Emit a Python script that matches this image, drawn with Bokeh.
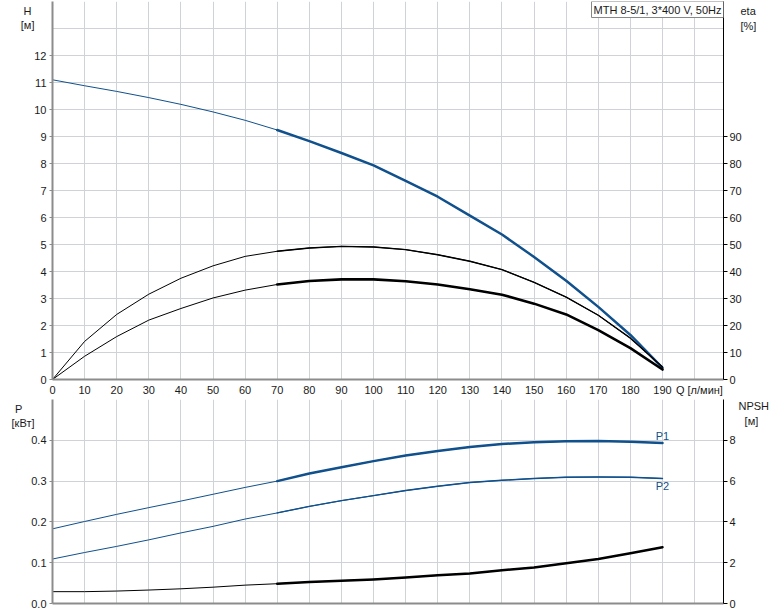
from bokeh.plotting import figure
from bokeh.models import Range1d, LinearAxis, FixedTicker, Label, NumeralTickFormatter
from bokeh.layouts import column
from bokeh.embed import file_html
from bokeh.resources import INLINE

# ---- data ----
q = [0, 10, 20, 30, 40, 50, 60, 70, 80, 90, 100, 110, 120, 130, 140, 150, 160, 170, 180, 190]
head = [11.1, 10.88, 10.67, 10.44, 10.19, 9.91, 9.6, 9.24, 8.83, 8.39, 7.93, 7.36, 6.77, 6.07,
        5.37, 4.54, 3.66, 2.69, 1.65, 0.43]
eta_pump = [0, 14.1, 24.1, 31.6, 37.5, 42.1, 45.6, 47.5, 48.7, 49.3, 49.1, 48.1, 46.2, 43.8,
            40.7, 36.0, 30.5, 23.8, 15.3, 4.6]
eta_total = [0, 8.6, 15.9, 22.0, 26.3, 30.2, 33.1, 35.2, 36.5, 37.1, 37.1, 36.4, 35.2, 33.4,
             31.4, 28.1, 24.1, 18.3, 11.6, 3.7]
p1 = [0.183, 0.201, 0.2185, 0.235, 0.251, 0.2677, 0.2845, 0.300, 0.3187, 0.334, 0.349, 0.363,
      0.3736, 0.3835, 0.391, 0.395, 0.3975, 0.398, 0.3966, 0.3933]
p2 = [0.109, 0.125, 0.140, 0.156, 0.173, 0.189, 0.207, 0.222, 0.238, 0.252, 0.2645, 0.2768,
      0.2874, 0.2965, 0.302, 0.3064, 0.3096, 0.310, 0.3096, 0.3064]
npsh = [0.58, 0.58, 0.61, 0.66, 0.72, 0.80, 0.90, 0.97, 1.05, 1.12, 1.18, 1.27, 1.38, 1.47,
        1.63, 1.77, 1.97, 2.18, 2.46, 2.76]
q_ticks = list(range(0, 200, 10))
h_ticks = list(range(0, 13))
eta_ticks = list(range(0, 100, 10))
p_ticks = [0.0, 0.1, 0.2, 0.3, 0.4]
npsh_ticks = [0, 2, 4, 6, 8]
title_text = "MTH 8-5/1, 3*400 V, 50Hz"
q_label = "Q [л/мин]"
h_label = "H\u00a0\n[м]"
eta_label = "eta\n[%]"
p_label = "P\u00a0\u00a0\u00a0\u00a0\n[кВт]"
npsh_label = "NPSH\n\u00a0\u00a0[м]"
p1_label = "P1"
p2_label = "P2"

BLUE = "#10508c"
GRID = "#cfd3d7"
AXG = "#8c8c8c"
FONT = "Liberation Sans"
FS = "11px"
TXT = "#1a1a1a"

k0 = q.index(70)  # start of the thick (operating) part

xr = Range1d(0, 209)


def style(p):
    p.outline_line_color = None
    p.background_fill_color = "white"
    p.border_fill_color = "white"
    p.xgrid.ticker = FixedTicker(ticks=list(range(0, 210, 10)))
    p.xgrid.grid_line_color = GRID
    p.ygrid.grid_line_color = GRID
    for ax in p.xaxis + p.yaxis:
        ax.axis_line_color = AXG
        ax.axis_line_width = 2
        ax.major_tick_line_color = AXG
        ax.minor_tick_line_color = None
        ax.major_tick_in = 0
        ax.major_tick_out = 3
        ax.major_label_text_font = FONT
        ax.major_label_text_font_size = FS
        ax.major_label_text_color = TXT
        ax.major_label_standoff = 3


def side_axis(range_name, ticks, color="black"):
    return LinearAxis(y_range_name=range_name, ticker=FixedTicker(ticks=ticks),
                      axis_line_color=color, axis_line_width=1,
                      major_tick_line_color=color, major_tick_in=0, major_tick_out=4,
                      minor_tick_line_color=None, major_label_text_font=FONT,
                      major_label_text_font_size=FS, major_label_text_color=TXT,
                      major_label_standoff=2)


def title_axis(range_name, tick, text, standoff):
    ax = LinearAxis(y_range_name=range_name, ticker=FixedTicker(ticks=[tick]),
                    axis_line_color=None, major_tick_line_color=None,
                    minor_tick_line_color=None, major_tick_in=0, major_tick_out=0,
                    major_label_text_font=FONT, major_label_text_font_size=FS,
                    major_label_text_color=TXT, major_label_standoff=standoff)
    ax.major_label_overrides = {tick: text}
    return ax


LJ = dict(line_join="round", line_cap="round")

# ---------------- top: H and eta ----------------
top = figure(width=774, height=398, x_range=xr, y_range=Range1d(0, 14),
             output_backend="svg", toolbar_location=None,
             min_border_left=52, min_border_right=51, min_border_top=1, min_border_bottom=17)
style(top)
top.ygrid.ticker = FixedTicker(ticks=list(range(0, 15)))
top.yaxis.ticker = FixedTicker(ticks=h_ticks)
top.xaxis.ticker = FixedTicker(ticks=q_ticks + [201.5])
top.xaxis.major_label_overrides = {201.5: q_label}
top.xaxis.major_label_standoff = 4
top.xaxis.major_tick_out = 0

top.extra_y_ranges = {"eta": Range1d(0, 140)}
top.add_layout(side_axis("eta", eta_ticks), "right")
top.add_layout(title_axis("default", 13.71, h_label, -3), "left")
top.add_layout(title_axis("eta", 137.2, eta_label, -4), "right")

top.line(q, head, line_color=BLUE, line_width=1, **LJ)
top.line(q[k0:], head[k0:], line_color=BLUE, line_width=2.5, **LJ)
top.line(q, eta_pump, y_range_name="eta", line_color="black", line_width=1, **LJ)
top.line(q[k0:], eta_pump[k0:], y_range_name="eta", line_color="black", line_width=1.4, **LJ)
top.line(q, eta_total, y_range_name="eta", line_color="black", line_width=1, **LJ)
top.line(q[k0:], eta_total[k0:], y_range_name="eta", line_color="black", line_width=2.6, **LJ)

top.add_layout(Label(x=209, y=14, text=title_text, text_font=FONT, text_font_size=FS,
                     text_color=TXT, text_align="right", text_baseline="top",
                     background_fill_color="white", border_line_color="#888888",
                     border_line_width=1, padding=2))

# ---------------- bottom: P and NPSH ----------------
bot = figure(width=774, height=213, x_range=xr, y_range=Range1d(0, 0.5),
             output_backend="svg", toolbar_location=None,
             min_border_left=52, min_border_right=51, min_border_top=1, min_border_bottom=8)
style(bot)
bot.ygrid.ticker = FixedTicker(ticks=[0.0, 0.1, 0.2, 0.3, 0.4, 0.5])
bot.yaxis.ticker = FixedTicker(ticks=p_ticks)
bot.yaxis.formatter = NumeralTickFormatter(format="0.0")
bot.xaxis.ticker = FixedTicker(ticks=[])
bot.xaxis.major_label_standoff = 0
bot.xaxis.major_tick_out = 0

bot.extra_y_ranges = {"npsh": Range1d(0, 10)}
bot.add_layout(side_axis("npsh", npsh_ticks), "right")
bot.add_layout(title_axis("default", 0.480, p_label, -6), "left")
bot.add_layout(title_axis("npsh", 9.49, npsh_label, 0), "right")

bot.line(q, p1, line_color=BLUE, line_width=1, **LJ)
bot.line(q[k0:], p1[k0:], line_color=BLUE, line_width=2.5, **LJ)
bot.line(q, p2, line_color=BLUE, line_width=1, **LJ)
bot.line(q[k0:], p2[k0:], line_color=BLUE, line_width=1.4, **LJ)
bot.line(q, npsh, y_range_name="npsh", line_color="black", line_width=1, **LJ)
bot.line(q[k0:], npsh[k0:], y_range_name="npsh", line_color="black", line_width=2.5, **LJ)

bot.add_layout(Label(x=190, y=0.41, text=p1_label, text_font=FONT, text_font_size=FS,
                     text_color=BLUE, text_align="center", text_baseline="middle"))
bot.add_layout(Label(x=190, y=0.289, text=p2_label, text_font=FONT, text_font_size=FS,
                     text_color=BLUE, text_align="center", text_baseline="middle"))

layout = column(top, bot, spacing=0)
open("out.html", "w").write(file_html(layout, INLINE))
